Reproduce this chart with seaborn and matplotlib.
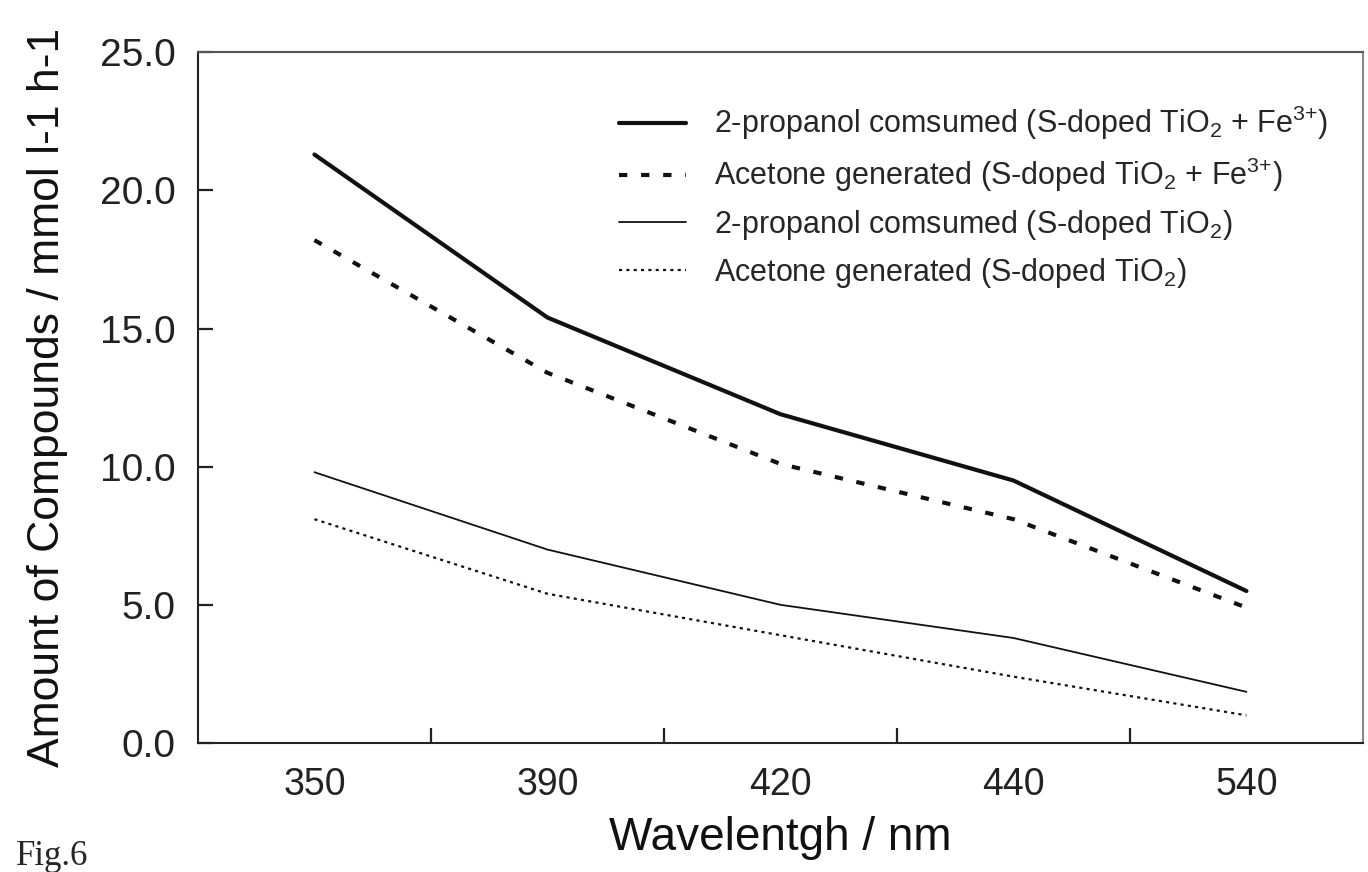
import numpy as np
import pandas as pd
import matplotlib
matplotlib.use("Agg")
import matplotlib.pyplot as plt
import seaborn as sns

# values
wavelengths = ["350", "390", "420", "440", "540"]
propanol_fe = [21.3, 15.4, 11.9, 9.5, 5.5]
acetone_fe = [18.2, 13.4, 10.1, 8.1, 4.9]
propanol_s = [9.8, 7.0, 5.0, 3.8, 1.85]
acetone_s = [8.1, 5.4, 3.9, 2.4, 1.0]

labels = [
    "2-propanol comsumed (S-doped TiO$_2$ + Fe$^{3{+}}$)",
    "Acetone generated (S-doped TiO$_2$ + Fe$^{3{+}}$)",
    "2-propanol comsumed (S-doped TiO$_2$)",
    "Acetone generated (S-doped TiO$_2$)",
]

sns.set_style("white")
plt.rcParams.update({
    "font.family": ["Liberation Sans", "DejaVu Sans"],
    "mathtext.default": "regular",
    "xtick.bottom": True,
    "ytick.left": True,
    "xtick.direction": "in",
    "ytick.direction": "in",
    "ytick.major.size": 11,
    "ytick.major.width": 1.6,
    "xtick.minor.size": 11,
    "xtick.minor.width": 1.6,
    "xtick.major.size": 0,
    "ytick.color": "#222222",
    "xtick.color": "#222222",
})

fig = plt.figure(figsize=(13.68, 8.72), dpi=100)
ax = fig.add_axes([0.1447, 0.148, 0.8516, 0.792])

pos = np.arange(len(wavelengths))
series = [propanol_fe, acetone_fe, propanol_s, acetone_s]
styles = [
    dict(linewidth=3.0, linestyle="-"),
    dict(linewidth=3.0, linestyle=(0, (2.0, 3.3))),
    dict(linewidth=1.3, linestyle="-"),
    dict(linewidth=1.6, linestyle=(0, (1.4, 1.9))),
]
for vals, lab, st in zip(series, labels, styles):
    df = pd.DataFrame({"x": pos, "y": vals})
    sns.lineplot(data=df, x="x", y="y", ax=ax, color="#111111", label=lab, **st)

ax.set_xlim(-0.5, len(wavelengths) - 0.5)
ax.set_ylim(0, 25)
ax.set_xticks(pos, labels=wavelengths)
ax.set_xticks(pos[:-1] + 0.5, minor=True)
ax.set_yticks(np.arange(0, 26, 5), labels=[f"{v:.1f}" for v in np.arange(0, 26, 5)])
ax.tick_params(axis="x", which="major", pad=17, labelsize=27)
ax.tick_params(axis="y", which="major", pad=16, labelsize=28)

for side in ["left", "bottom", "top", "right"]:
    ax.spines[side].set_visible(True)
    ax.spines[side].set_color("#222222")
    ax.spines[side].set_linewidth(1.5)
ax.spines["right"].set_color("#888888")
ax.spines["top"].set_color("#555555")

ax.set_xlabel("Wavelentgh / nm", fontsize=33, labelpad=10, color="#111111")
ax.set_ylabel("Amount of Compounds / mmol l-1 h-1", fontsize=32, labelpad=23, color="#111111")

ax.legend(loc="upper left", bbox_to_anchor=(0.351, 0.943), frameon=False, fontsize=22,
          handlelength=2.2, handletextpad=0.9, labelspacing=0.45, borderaxespad=0)

fig.text(0.012, 0.008, "Fig.6", fontsize=25, va="baseline",
         family=["Liberation Serif", "DejaVu Serif"])

fig.savefig("out.png", dpi=100)
